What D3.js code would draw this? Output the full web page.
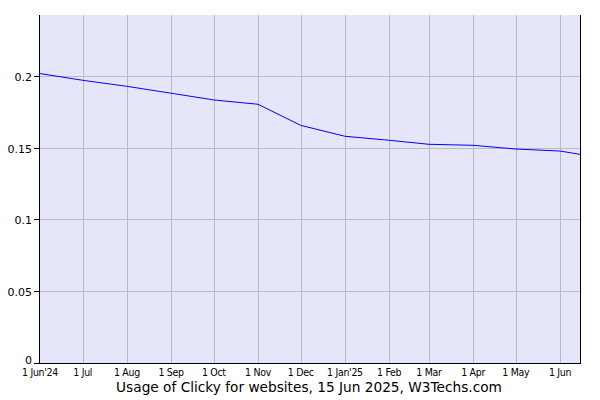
<!doctype html>
<html>
<head>
<meta charset="UTF-8">
<script src="https://d3js.org/d3.v7.min.js"></script>
<style>
  body { margin: 0; background: #fff; }
</style>
</head>
<body>
<svg width="600" height="400"></svg>
<script>
var dates = ["2024-06-01","2024-07-01","2024-08-01","2024-09-01","2024-10-01","2024-11-01",
             "2024-12-01","2025-01-01","2025-02-01","2025-03-01","2025-04-01","2025-05-01",
             "2025-06-01","2025-06-15"];
var usage = [0.2017, 0.197, 0.1928, 0.188, 0.1833, 0.1803,
             0.1656, 0.158, 0.1552, 0.1524, 0.1517, 0.1491,
             0.1477, 0.1454];
var yTicks = [0, 0.05, 0.1, 0.15, 0.2];
var yTickLabels = ["0", "0.05", "0.1", "0.15", "0.2"];
var xTicks = ["2024-06-01","2024-07-01","2024-08-01","2024-09-01","2024-10-01","2024-11-01",
              "2024-12-01","2025-01-01","2025-02-01","2025-03-01","2025-04-01","2025-05-01",
              "2025-06-01"];
var xTickLabels = ["1 Jun'24","1 Jul","1 Aug","1 Sep","1 Oct","1 Nov","1 Dec",
                   "1 Jan'25","1 Feb","1 Mar","1 Apr","1 May","1 Jun"];
var title = "Usage of Clicky for websites, 15 Jun 2025, W3Techs.com";

var parse = d3.timeParse("%Y-%m-%d");
var pLeft = 40, pRight = 580, pTop = 15, pBottom = 363;
var svg = d3.select("svg");

var x = d3.scaleTime()
    .domain([parse("2024-06-01"), parse("2025-06-15")])
    .range([pLeft, pRight]);
var y = d3.scaleLinear().domain([0, 0.2425]).range([pBottom, pTop]);

// background
svg.append("rect")
    .attr("x", pLeft).attr("y", pTop)
    .attr("width", pRight - pLeft).attr("height", pBottom - pTop)
    .attr("fill", "#e6e6fa");

// grid
svg.append("g").selectAll("line").data(yTicks.slice(1)).enter().append("line")
    .attr("x1", pLeft).attr("x2", pRight)
    .attr("y1", function(d){ return Math.round(y(d)) + 0.5; })
    .attr("y2", function(d){ return Math.round(y(d)) + 0.5; })
    .attr("stroke", "#bbbbbb");
svg.append("g").selectAll("line").data(xTicks.slice(1)).enter().append("line")
    .attr("x1", function(d){ return Math.round(x(parse(d))) + 0.5; })
    .attr("x2", function(d){ return Math.round(x(parse(d))) + 0.5; })
    .attr("y1", pTop).attr("y2", pBottom)
    .attr("stroke", "#bbbbbb");

// line
var line = d3.line()
    .x(function(d, i){ return x(parse(dates[i])); })
    .y(function(d){ return y(d); });
svg.append("path")
    .datum(usage)
    .attr("d", line)
    .attr("fill", "none")
    .attr("stroke", "#0000ff")
    .attr("stroke-width", 1);

// axes frame
svg.append("line").attr("x1", pLeft - 0.5).attr("x2", pLeft - 0.5)
    .attr("y1", pTop).attr("y2", pBottom + 0.5).attr("stroke", "#000");
svg.append("line").attr("x1", pRight + 0.5).attr("x2", pRight + 0.5)
    .attr("y1", pTop).attr("y2", pBottom + 0.5).attr("stroke", "#000");
svg.append("line").attr("x1", pLeft - 1).attr("x2", pRight + 1)
    .attr("y1", pBottom + 0.5).attr("y2", pBottom + 0.5).attr("stroke", "#000");

// y ticks
var yAxis = svg.append("g").attr("font-family", "DejaVu Sans").attr("font-size", 11);
yTicks.forEach(function(d, i){
    var yy = Math.round(y(d)) + 0.5;
    yAxis.append("line").attr("x1", pLeft - 6).attr("x2", pLeft)
        .attr("y1", yy).attr("y2", yy).attr("stroke", "#000");
    yAxis.append("text").attr("x", pLeft - 8).attr("y", yy + 4 - (d === 0 ? 4 : 0))
        .attr("text-anchor", "end").attr("fill", "#000").text(yTickLabels[i]);
});

// x labels
var xAxis = svg.append("g").attr("font-family", "DejaVu Sans Condensed").attr("font-size", 10.5);
xTicks.forEach(function(d, i){
    xAxis.append("text").attr("x", x(parse(d))).attr("y", 376)
        .attr("text-anchor", "middle").attr("fill", "#000")
        .attr("letter-spacing", -0.3)
        .text(xTickLabels[i]);
});

// title
svg.append("text").attr("x", 309).attr("y", 392)
    .attr("text-anchor", "middle")
    .attr("font-family", "DejaVu Sans").attr("font-size", 13.7)
    .attr("fill", "#000").text(title);
</script>
</body>
</html>
